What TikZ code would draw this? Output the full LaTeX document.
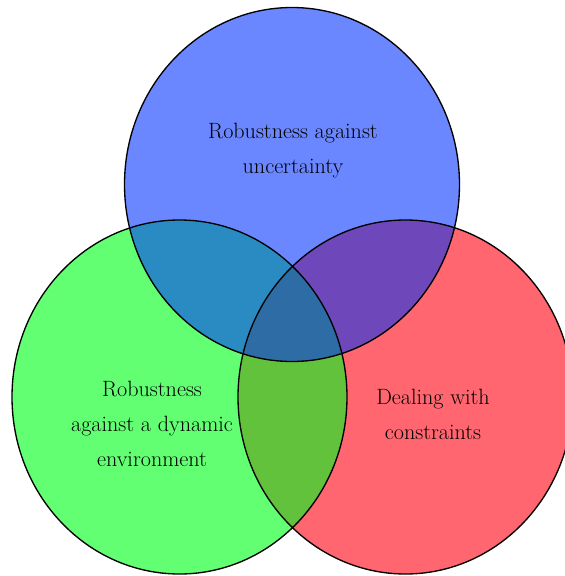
\documentclass[tikz,border=0pt]{standalone}
\usepackage{tikz}
\usepackage{xcolor}

\definecolor{setblue}{RGB}{107,135,255}
\definecolor{setgreen}{RGB}{99,255,115}
\definecolor{setred}{RGB}{255,102,112}
\definecolor{bluegreen}{RGB}{42,138,194}
\definecolor{bluered}{RGB}{110,72,186}
\definecolor{greenred}{RGB}{99,194,60}
\definecolor{allthree}{RGB}{46,108,166}

\tikzset{
  setshape/.style={x radius=167.5,y radius=177},
  setline/.style={draw=black,line width=1pt},
  setlabel/.style={align=center,font=\fontsize{16.6}{26.3}\selectfont,inner sep=0pt}
}

\begin{document}
\begin{tikzpicture}[x=0.75pt,y=0.75pt,yscale=-1,xscale=1]
                  %set diagram area, right circle is cut at the edge
                  \clip (0,0) rectangle (565,576);

                  %centres of the three sets
                  \coordinate (uncert) at (292,184.5);
                  \coordinate (dyn) at (179.5,397);
                  \coordinate (cons) at (405.5,397);

                  %Single sets
                  \fill [setblue] (uncert) ellipse [setshape];
                  \fill [setgreen] (dyn) ellipse [setshape];
                  \fill [setred] (cons) ellipse [setshape];

                  %Pairwise overlaps
                  \begin{scope}
                  \clip (uncert) ellipse [setshape];
                  \fill [bluegreen] (dyn) ellipse [setshape];
                  \fill [bluered] (cons) ellipse [setshape];
                  \end{scope}
                  \begin{scope}
                  \clip (dyn) ellipse [setshape];
                  \fill [greenred] (cons) ellipse [setshape];
                  \end{scope}

                  %Overlap of all three
                  \begin{scope}
                  \clip (uncert) ellipse [setshape];
                  \clip (dyn) ellipse [setshape];
                  \fill [allthree] (cons) ellipse [setshape];
                  \end{scope}

                  %Outlines
                  \draw [setline] (uncert) ellipse [setshape];
                  \draw [setline] (dyn) ellipse [setshape];
                  \draw [setline] (cons) ellipse [setshape];

                  % Text Node
                  \node [setlabel] (uncertlabel) at (293,150.5) {Robustness against\\uncertainty};
                  % Text Node
                  \node [setlabel] (dynlabel) at (152,423.5) {Robustness\\against a dynamic\\environment};
                  % Text Node
                  \node [setlabel] (conslabel) at (433,414.5) {Dealing with\\constraints};

              \end{tikzpicture}
\end{document}
